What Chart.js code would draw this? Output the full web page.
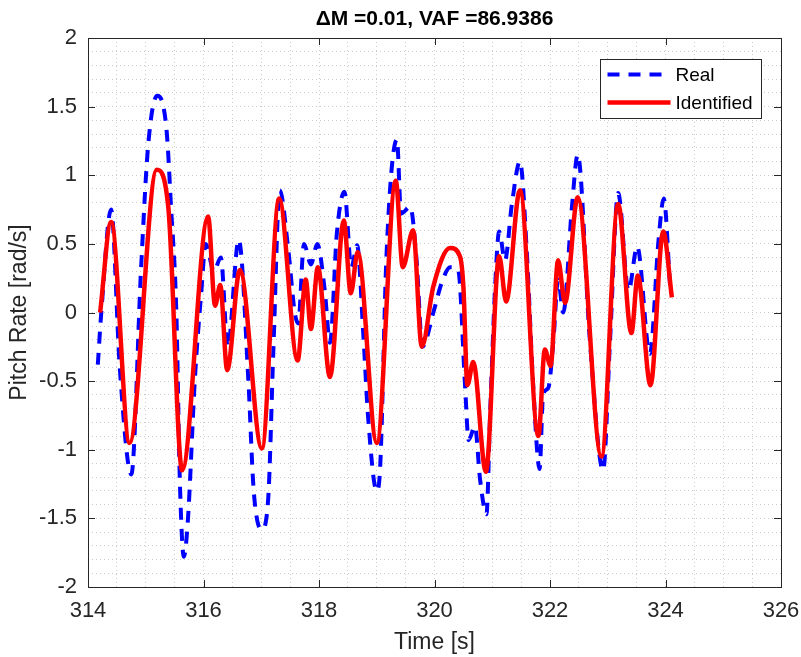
<!DOCTYPE html>
<html>
<head>
<meta charset="utf-8">
<script src="https://cdn.jsdelivr.net/npm/chart.js@4.4.1/dist/chart.umd.min.js"></script>
<style>
  html, body { margin: 0; padding: 0; background: #fff; }
  #chart { display: block; }
</style>
</head>
<body>
<canvas id="chart" width="801" height="657"></canvas>
<script>
// Real (measured) pitch rate
const timeReal = [314.17, 314.23, 314.40, 314.55, 314.75, 314.92, 315.04, 315.20, 315.36, 315.44, 315.53, 315.59, 315.66, 315.73, 315.85, 315.96, 316.04, 316.18, 316.30, 316.42, 316.61, 316.78, 316.86, 316.92, 317.01, 317.12, 317.21, 317.32, 317.47, 317.58, 317.64, 317.74, 317.86, 317.97, 318.10, 318.19, 318.31, 318.44, 318.56, 318.66, 318.77, 318.85, 319.00, 319.06, 319.17, 319.35, 319.42, 319.58, 319.69, 319.79, 319.98, 320.12, 320.27, 320.41, 320.53, 320.59, 320.70, 320.79, 320.90, 320.96, 321.05, 321.12, 321.22, 321.34, 321.48, 321.60, 321.71, 321.82, 321.88, 321.97, 322.06, 322.14, 322.23, 322.38, 322.48, 322.69, 322.92, 323.04, 323.18, 323.36, 323.51, 323.73, 323.88, 323.97, 324.08];
const valReal = [-0.38, 0.0, 0.75, -0.40, -1.18, 0.33, 1.21, 1.58, 1.33, 0.75, 0.0, -1.22, -1.78, -1.51, -0.49, 0.14, 0.50, 0.30, 0.40, -0.25, 0.53, -0.52, -1.24, -1.49, -1.58, -1.36, -0.27, 0.89, 0.45, 0.0, -0.08, 0.50, 0.35, 0.50, 0.16, -0.22, 0.58, 0.88, 0.33, 0.49, -0.18, -0.76, -1.30, -1.12, 0.43, 1.26, 0.72, 0.77, 0.38, -0.25, 0.0, 0.21, 0.33, 0.31, -0.54, -0.93, -0.83, -1.22, -1.47, -0.78, 0.19, 0.59, 0.38, 0.79, 1.10, 0.43, -0.54, -1.14, -0.60, -0.55, -0.20, 0.24, 0.0, 0.77, 1.15, -0.20, -1.15, -0.20, 0.87, 0.16, 0.48, -0.30, 0.53, 0.83, 0.19];

// Identified model output
const timeIdent = [314.21, 314.40, 314.72, 315.19, 315.39, 315.63, 316.08, 316.20, 316.29, 316.41, 316.63, 317.01, 317.31, 317.63, 317.77, 317.86, 317.98, 318.19, 318.43, 318.55, 318.67, 319.00, 319.33, 319.45, 319.63, 319.78, 319.98, 320.27, 320.44, 320.50, 320.57, 320.67, 320.89, 321.12, 321.24, 321.48, 321.80, 321.91, 322.01, 322.14, 322.26, 322.48, 322.89, 323.18, 323.41, 323.52, 323.74, 323.96, 324.11];
const valIdent = [0.0, 0.66, -0.95, 1.04, 0.77, -1.15, 0.70, 0.05, 0.20, -0.42, 0.31, -0.99, 0.83, -0.35, 0.24, -0.12, 0.33, -0.47, 0.67, 0.14, 0.44, -0.95, 0.96, 0.33, 0.60, -0.25, 0.19, 0.47, 0.41, 0.19, -0.53, -0.36, -1.16, 0.41, 0.08, 0.89, -0.90, -0.27, -0.39, 0.38, 0.07, 0.84, -1.05, 0.79, -0.15, 0.27, -0.53, 0.59, 0.11];

const xTickLabels = ['314', '316', '318', '320', '322', '324', '326'];
const yTickLabels = ['-2', '-1.5', '-1', '-0.5', '0', '0.5', '1', '1.5', '2'];
const titleText = '\u0394M =0.01, VAF =86.9386';

const FONT = '"Liberation Sans", Arial, Helvetica, sans-serif';
const AXIS_COLOR = '#262626';

function toPoints(xs, ys) {
  return xs.map((x, i) => ({x: x, y: ys[i]}));
}

function isMultiple(v, step) {
  const r = v / step;
  return Math.abs(r - Math.round(r)) < 1e-6;
}

// Title, box, inward tick marks and the in-plot legend (MATLAB look)
const matlabAxes = {
  id: 'matlabAxes',
  afterDraw(chart) {
    const ctx = chart.ctx;
    const a = chart.chartArea;
    const xs = chart.scales.x, ys = chart.scales.y;
    ctx.save();

    // title centred over the axes
    ctx.fillStyle = '#000';
    ctx.font = 'bold 21px ' + FONT;
    ctx.textAlign = 'center';
    ctx.textBaseline = 'middle';
    ctx.fillText(titleText, (a.left + a.right) / 2, 19);

    ctx.strokeStyle = AXIS_COLOR;
    ctx.lineWidth = 1;
    ctx.beginPath();
    xTickLabels.forEach(l => {
      const px = Math.round(xs.getPixelForValue(Number(l))) + 0.5;
      ctx.moveTo(px, a.bottom); ctx.lineTo(px, a.bottom - 7);
      ctx.moveTo(px, a.top); ctx.lineTo(px, a.top + 7);
    });
    yTickLabels.forEach(l => {
      const py = Math.round(ys.getPixelForValue(Number(l))) + 0.5;
      ctx.moveTo(a.left, py); ctx.lineTo(a.left + 7, py);
      ctx.moveTo(a.right, py); ctx.lineTo(a.right - 7, py);
    });
    ctx.stroke();
    ctx.strokeRect(Math.round(a.left) + 0.5, Math.round(a.top) + 0.5,
      Math.round(a.right - a.left), Math.round(a.bottom - a.top));

    // legend
    const bx = 600.5, by = 59.5, bw = 161, bh = 59;
    ctx.fillStyle = '#fff';
    ctx.fillRect(bx, by, bw, bh);
    ctx.strokeStyle = AXIS_COLOR;
    ctx.strokeRect(bx, by, bw, bh);
    const items = chart.data.datasets.slice().sort((p, q) => p.legendRank - q.legendRank);
    items.forEach((ds, i) => {
      const y = by + 15 + i * 28;
      ctx.beginPath();
      ctx.strokeStyle = ds.borderColor;
      ctx.lineWidth = ds.borderWidth;
      ctx.setLineDash(ds.borderDash || []);
      ctx.moveTo(bx + 7, y); ctx.lineTo(bx + 70, y);
      ctx.stroke();
      ctx.setLineDash([]);
      ctx.fillStyle = '#000';
      ctx.font = '19px ' + FONT;
      ctx.textBaseline = 'middle';
      ctx.textAlign = 'left';
      ctx.fillText(ds.label, bx + 75, y + 1);
    });
    ctx.restore();
  }
};

new Chart(document.getElementById('chart'), {
  type: 'line',
  data: {
    datasets: [
      {
        label: 'Identified',
        legendRank: 1,
        order: 0,
        data: toPoints(timeIdent, valIdent),
        borderColor: '#ff0000',
        borderWidth: 4.5,
        pointRadius: 0,
        cubicInterpolationMode: 'monotone',
        fill: false
      },
      {
        label: 'Real',
        legendRank: 0,
        order: 1,
        data: toPoints(timeReal, valReal),
        borderColor: '#0000ff',
        borderWidth: 4,
        borderDash: [12, 9],
        pointRadius: 0,
        cubicInterpolationMode: 'monotone',
        fill: false
      }
    ]
  },
  options: {
    responsive: false,
    animation: false,
    devicePixelRatio: 1,
    layout: {padding: {left: 0, right: 20, top: 38, bottom: 0}},
    plugins: {
      legend: {display: false},
      tooltip: {enabled: false},
      title: {display: false}
    },
    scales: {
      x: {
        type: 'linear',
        min: 314,
        max: 326,
        afterFit: s => { s.height = 70; s.paddingLeft = 0; s.paddingRight = 0; },
        ticks: {
          stepSize: 0.5,
          maxTicksLimit: 100,
          autoSkip: false,
          maxRotation: 0,
          padding: 11,
          color: AXIS_COLOR,
          font: {family: FONT, size: 22},
          callback: v => isMultiple(v, 2) ? String(Math.round(v)) : ''
        },
        grid: {color: '#cacaca', lineWidth: 1, drawTicks: false},
        border: {display: false, dash: [1, 3]},
        title: {
          display: true,
          text: 'Time [s]',
          color: AXIS_COLOR,
          font: {family: FONT, size: 23},
          padding: {top: 0, bottom: 1}
        }
      },
      y: {
        type: 'linear',
        min: -2,
        max: 2,
        afterFit: s => { s.width = 88; s.paddingTop = 0; s.paddingBottom = 0; },
        ticks: {
          stepSize: 0.1,
          maxTicksLimit: 100,
          autoSkip: false,
          padding: 11,
          color: AXIS_COLOR,
          font: {family: FONT, size: 22},
          callback: v => isMultiple(v, 0.5) ? String(Math.round(v * 2) / 2) : ''
        },
        grid: {color: '#cacaca', lineWidth: 1, drawTicks: false},
        border: {display: false, dash: [1, 3]},
        title: {
          display: true,
          text: 'Pitch Rate [rad/s]',
          color: AXIS_COLOR,
          font: {family: FONT, size: 23},
          padding: {top: 6, bottom: 0}
        }
      }
    }
  },
  plugins: [matlabAxes]
});
</script>
</body>
</html>
